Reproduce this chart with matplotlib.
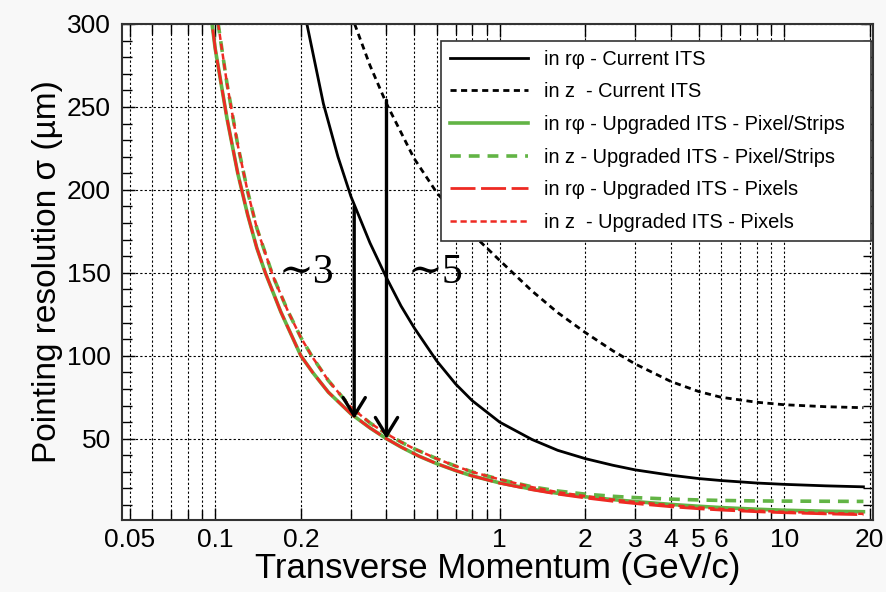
import numpy as np
import matplotlib
matplotlib.use("Agg")
import matplotlib.pyplot as plt
from matplotlib.ticker import FixedLocator, NullFormatter

plt.rcParams['font.family'] = ['Liberation Sans', 'DejaVu Sans']

# transverse momentum grid (GeV/c) and pointing resolutions (um)
pt_lo = [0.095, 0.1, 0.11, 0.12, 0.13, 0.14, 0.15, 0.17, 0.2, 0.22, 0.25, 0.3, 0.35, 0.4, 0.45,
         0.52, 0.6, 0.7, 0.8, 1.0, 1.3, 1.6, 2.0, 2.5, 3.0, 4.0, 5.0, 6.0, 8.0, 10.0, 14.0, 19.0]
rphi_pixels = [315, 285, 243, 210, 185, 165, 150, 126.5, 100, 90, 78, 65, 56.5, 50, 45,
               39.5, 35, 30.8, 27.6, 23.2, 19.2, 16.6, 14.3, 12.3, 10.9, 9.0, 7.8, 7.0, 6.0, 5.4, 4.7, 4.2]
rphi_strips = [315, 285, 243, 210, 185, 165, 150, 126.5, 100, 90, 78, 65, 56.5, 50, 45,
               39.5, 35, 30.8, 27.6, 23.4, 19.6, 17.1, 15.0, 13.3, 12.1, 10.4, 9.3, 8.5, 7.5, 6.9, 6.3, 6.0]

pt_z = [0.1, 0.11, 0.12, 0.13, 0.14, 0.16, 0.18, 0.2, 0.22, 0.25, 0.3, 0.35, 0.4, 0.45,
        0.5, 0.6, 0.7, 0.8, 1.0, 1.3, 1.6, 2.0, 2.5, 3.0, 4.0, 5.0, 6.0, 8.0, 10.0, 14.0, 19.0]
z_strips = [312, 264, 227, 199, 177, 147.5, 127, 111, 99, 85, 69, 59.5, 53, 48,
            44, 38, 33.5, 30, 25.5, 21, 18.5, 16.6, 15.3, 14.5, 13.6, 13.1, 12.8, 12.5, 12.4, 12.3, 12.2]
z_pixels = [312, 264, 227, 199, 177, 147.5, 127, 111, 99, 85, 69, 59.5, 53, 48,
            44, 38, 33.5, 30, 25.5, 20.8, 17.8, 15.4, 13.3, 11.8, 9.9, 8.6, 7.7, 6.6, 5.9, 5.2, 4.7]

pt_cur = [0.205, 0.21, 0.24, 0.27, 0.3, 0.35, 0.4, 0.45, 0.5, 0.6, 0.7, 0.8, 1.0, 1.3,
          1.6, 2.0, 2.5, 3.0, 4.0, 5.0, 6.0, 8.0, 10.0, 14.0, 19.0]
rphi_current = [310, 300, 252, 220, 196, 168, 147, 130, 117, 97, 83, 73, 60, 49.5,
                43, 38, 34, 31.2, 28, 26, 24.8, 23.3, 22.5, 21.6, 21]

pt_curz = [0.3, 0.35, 0.4, 0.5, 0.6, 0.7, 0.8, 1.0, 1.3, 1.6, 2.0, 2.5, 3.0, 4.0,
           5.0, 6.0, 8.0, 10.0, 14.0, 19.0]
z_current = [306, 275, 252, 219, 198.5, 185, 173.5, 157.5, 139, 126, 114, 103, 95, 84.5,
             78.5, 75, 72, 70.5, 69.3, 68.7]

# improvement arrows
arrow_pt = [0.308, 0.4]
arrow_from = [190, 254]
arrow_to = [62, 50]
arrow_text = ['∼3', '∼5']
text_pt = [0.167, 0.473]
text_y = [150, 150]

xtick_vals = [0.05, 0.1, 0.2, 1, 2, 3, 4, 5, 6, 10, 20]
xtick_text = ['0.05', '0.1', '0.2', '1', '2', '3', '4', '5', '6', '10', '20']
xminor_vals = [0.06, 0.07, 0.08, 0.09, 0.3, 0.4, 0.5, 0.6, 0.7, 0.8, 0.9, 7, 8, 9]

labels = ['in rφ - Current ITS',
          'in z  - Current ITS',
          'in rφ - Upgraded ITS - Pixel/Strips',
          'in z - Upgraded ITS - Pixel/Strips',
          'in rφ - Upgraded ITS - Pixels',
          'in z  - Upgraded ITS - Pixels']

green = '#62b445'
red = '#ee2a23'

fig = plt.figure(figsize=(8.87, 5.92), dpi=100, facecolor='#f8f8f8')
ax = fig.add_axes([0.1375, 0.1216, 0.8465, 0.8379])
ax.set_xscale('log')

l1, = ax.plot(pt_cur, rphi_current, color='k', lw=2.0)
l2, = ax.plot(pt_curz, z_current, color='k', lw=2.0, dashes=(2.2, 1.6))
l3, = ax.plot(pt_lo, rphi_strips, color=green, lw=2.6)
l4, = ax.plot(pt_z, z_strips, color=green, lw=2.6, dashes=(3.0, 2.2))
l5, = ax.plot(pt_lo, rphi_pixels, color=red, lw=2.0, dashes=(9, 2))
l6, = ax.plot(pt_z, z_pixels, color=red, lw=1.8, dashes=(2.5, 1.5))

for x, y0, y1 in zip(arrow_pt, arrow_from, arrow_to):
    ax.annotate('', xy=(x, y1), xytext=(x, y0),
                arrowprops=dict(arrowstyle='->,head_length=1.3,head_width=0.8',
                                color='k', lw=2.4, shrinkA=0, shrinkB=0))
for x, y, s in zip(text_pt, text_y, arrow_text):
    ax.text(x, y, s, fontsize=30, ha='left', va='center',
            family=['Liberation Serif', 'DejaVu Serif'])

ax.set_xlim(0.047, 20.5)
ax.set_ylim(1, 300)

ax.xaxis.set_major_locator(FixedLocator(xtick_vals))
ax.xaxis.set_minor_locator(FixedLocator(xminor_vals))
ax.set_xticklabels(xtick_text, fontsize=19)
ax.xaxis.set_minor_formatter(NullFormatter())
ax.set_yticks([50, 100, 150, 200, 250, 300])
ax.set_yticks(np.arange(10, 300, 10), minor=True)

ax.grid(True, which='both', axis='x', color='k', lw=0.8, dashes=(2, 2))
ax.grid(True, which='major', axis='y', color='k', lw=0.8, dashes=(2, 2))
ax.tick_params(which='both', direction='in', top=True, right=True, width=1.0)
ax.tick_params(which='major', length=9, pad=8)
ax.tick_params(axis='y', labelsize=19)
ax.tick_params(axis='x', pad=6)
ax.tick_params(which='minor', length=7)
for sp in ax.spines.values():
    sp.set_linewidth(1.5)
    sp.set_color('#333333')

ax.set_xlabel('Transverse Momentum (GeV/c)', fontsize=25, labelpad=0)
ax.set_ylabel('Pointing resolution σ (µm)', fontsize=24, labelpad=3)

# trailing spaces leave some room on the right of the legend box
leg = ax.legend([l1, l2, l3, l4, l5, l6], [s + '   ' for s in labels], loc='upper right',
                bbox_to_anchor=(0.997, 0.966), fontsize=14.4, handlelength=3.9,
                labelspacing=0.68, frameon=True, fancybox=False, framealpha=1,
                edgecolor='#333333', borderpad=0.45, handletextpad=0.8,
                borderaxespad=0)
leg.get_frame().set_linewidth(1.2)

fig.savefig('out.png', dpi=100, facecolor=fig.get_facecolor())
